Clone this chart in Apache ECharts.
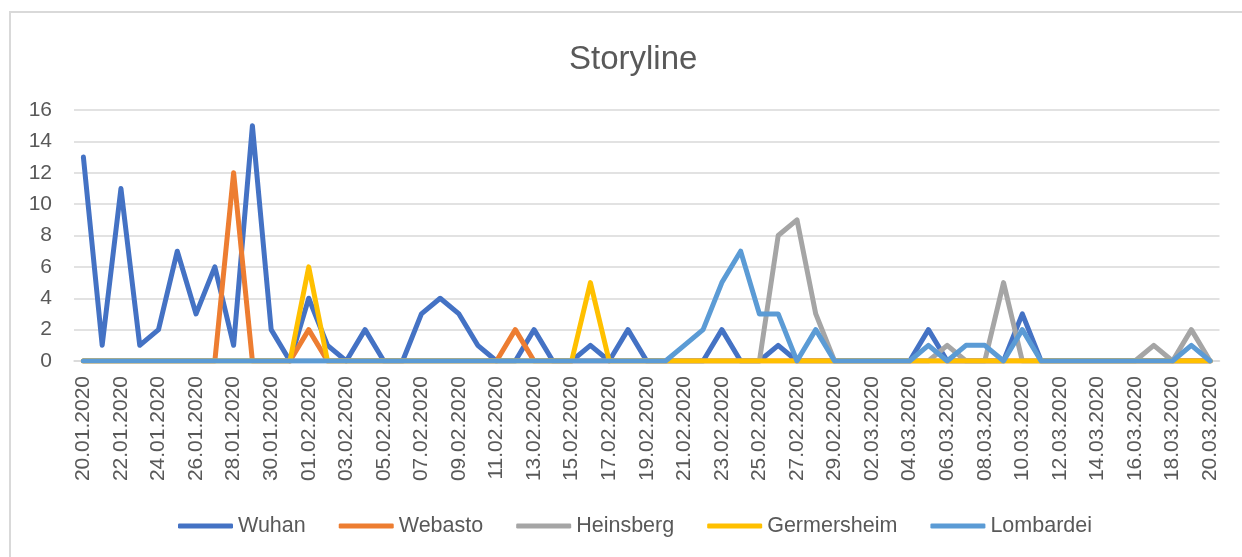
<!DOCTYPE html>
<html>
<head>
<meta charset="utf-8">
<script src="https://cdn.jsdelivr.net/npm/echarts@6/dist/echarts.min.js"></script>
<style>
html,body{margin:0;padding:0;background:#fff;}
#chart{width:1242px;height:557px;}
</style>
</head>
<body>
<div id="chart"></div>
<script>
const categories = [
 '20.01.2020','21.01.2020','22.01.2020','23.01.2020','24.01.2020','25.01.2020','26.01.2020','27.01.2020','28.01.2020','29.01.2020','30.01.2020','31.01.2020',
 '01.02.2020','02.02.2020','03.02.2020','04.02.2020','05.02.2020','06.02.2020','07.02.2020','08.02.2020','09.02.2020','10.02.2020',
 '11.02.2020','12.02.2020','13.02.2020','14.02.2020','15.02.2020','16.02.2020','17.02.2020','18.02.2020','19.02.2020','20.02.2020',
 '21.02.2020','22.02.2020','23.02.2020','24.02.2020','25.02.2020','26.02.2020','27.02.2020','28.02.2020','29.02.2020',
 '01.03.2020','02.03.2020','03.03.2020','04.03.2020','05.03.2020','06.03.2020','07.03.2020','08.03.2020','09.03.2020','10.03.2020',
 '11.03.2020','12.03.2020','13.03.2020','14.03.2020','15.03.2020','16.03.2020','17.03.2020','18.03.2020','19.03.2020','20.03.2020'
];
const wuhan = [13,1,11,1,2,7,3,6,1,15,2,0, 4,1,0,2,0,0,3,4,3,1, 0,0,2,0,0,1,0,2,0,0, 0,0,2,0,0,1,0,0,0, 0,0,0,0,2,0,0,0,0,3, 0,0,0,0,0,0,0,0,0,0];
const webasto = [0,0,0,0,0,0,0,0,12,0,0,0, 2,0,0,0,0,0,0,0,0,0, 0,2,0,0,0,0,0,0,0,0, 0,0,0,0,0,0,0,0,0, 0,0,0,0,0,0,0,0,0,0, 0,0,0,0,0,0,0,0,0,0];
const heinsberg = [0,0,0,0,0,0,0,0,0,0,0,0, 0,0,0,0,0,0,0,0,0,0, 0,0,0,0,0,0,0,0,0,0, 0,0,0,0,0,8,9,3,0, 0,0,0,0,0,1,0,0,5,0, 0,0,0,0,0,0,1,0,2,0];
const germersheim = [0,0,0,0,0,0,0,0,0,0,0,0, 6,0,0,0,0,0,0,0,0,0, 0,0,0,0,0,5,0,0,0,0, 0,0,0,0,0,0,0,0,0, 0,0,0,0,0,0,0,0,0,0, 0,0,0,0,0,0,0,0,0,0];
const lombardei = [0,0,0,0,0,0,0,0,0,0,0,0, 0,0,0,0,0,0,0,0,0,0, 0,0,0,0,0,0,0,0,0,0, 1,2,5,7,3,3,0,2,0, 0,0,0,0,1,0,1,1,0,2, 0,0,0,0,0,0,0,0,1,0];
const seriesNames = ['Wuhan','Webasto','Heinsberg','Germersheim','Lombardei'];
const seriesData = [wuhan, webasto, heinsberg, germersheim, lombardei];
const colors = ['#4472C4','#ED7D31','#A5A5A5','#FFC000','#5B9BD5'];
const yTicks = {min:0, max:16, interval:2};

const FONT = 'Liberation Sans';
const chart = echarts.init(document.getElementById('chart'), null, {renderer:'canvas'});
chart.setOption({
  animation:false,
  backgroundColor:'#ffffff',
  color: colors,
  textStyle:{fontFamily:FONT},
  title:{
    text:'Storyline', left:564, top:38,
    textStyle:{fontSize:33, fontWeight:'normal', color:'#595959', fontFamily:FONT}
  },
  graphic:[{
    type:'rect', silent:true, z:-1,
    shape:{x:10, y:12, width:1300, height:600},
    style:{fill:'none', stroke:'#d9d9d9', lineWidth:2}
  }],
  legend:{
    left:173, top:510, itemWidth:55, itemHeight:5, itemGap:33, icon:'roundRect',
    textStyle:{fontSize:21.5, color:'#595959', fontFamily:FONT},
    data: seriesNames
  },
  grid:{left:74, right:22.5, top:110, bottom:196},
  xAxis:{
    type:'category', data:categories, boundaryGap:true,
    axisLine:{lineStyle:{color:'#d9d9d9', width:1.5}},
    axisTick:{interval:1, length:5, lineStyle:{color:'#d9d9d9', width:1.5}},
    axisLabel:{interval:1, rotate:90, fontSize:21, color:'#595959', margin:15, fontFamily:FONT}
  },
  yAxis:{
    type:'value', min:yTicks.min, max:yTicks.max, interval:yTicks.interval,
    axisLine:{show:false}, axisTick:{show:false},
    splitLine:{lineStyle:{color:'#d9d9d9', width:1.5}},
    axisLabel:{fontSize:21, color:'#595959', margin:22, fontFamily:FONT}
  },
  series: seriesNames.map((n,i)=>({
    name:n, type:'line', data:seriesData[i], symbol:'none', showSymbol:false,
    lineStyle:{width:5, color:colors[i], cap:'round', join:'round'},
    itemStyle:{color:colors[i]},
    z:2+i
  }))
});
</script>
</body>
</html>
